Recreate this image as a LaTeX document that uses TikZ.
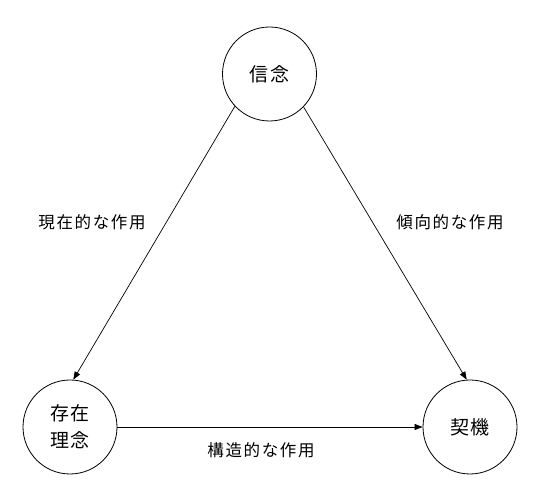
\documentclass[tikz,border=0pt]{standalone}
\usepackage{fontspec}
\newfontfamily\jplabel[LetterSpace=10]{Noto Sans CJK JP}
\newfontfamily\jpcirc[LetterSpace=10]{Noto Sans CJK JP}
\usetikzlibrary{arrows.meta}
\begin{document}
\begin{tikzpicture}[x=1pt,y=1pt,
  circ/.style={draw, circle, line width=0.8pt, minimum size=94pt, inner sep=0pt, align=center,
    font=\jpcirc\fontsize{19}{27}\selectfont},
  lbl/.style={font=\jplabel\fontsize{16.5}{18}\selectfont, inner sep=0pt},
  arr/.style={line width=0.7pt, -{Triangle[length=8pt,width=6pt]}}]
\useasboundingbox (0,0) rectangle (542,501);
\node[circ] (belief) at (269.5,427) {信念};
\node[circ] (being) at (70,74) {存在\\理念};
\node[circ] (moment) at (470,74) {契機};
\draw[arr] (belief.-137) -- (being.86);
\draw[arr] (belief.-44) -- (moment.94);
\draw[arr] (being.east) -- (moment.west);
\node[lbl] (l1) at (92,279) {現在的な作用};
\node[lbl] (l2) at (450,279) {傾向的な作用};
\node[lbl] (l3) at (261,51) {構造的な作用};
\end{tikzpicture}
\end{document}
